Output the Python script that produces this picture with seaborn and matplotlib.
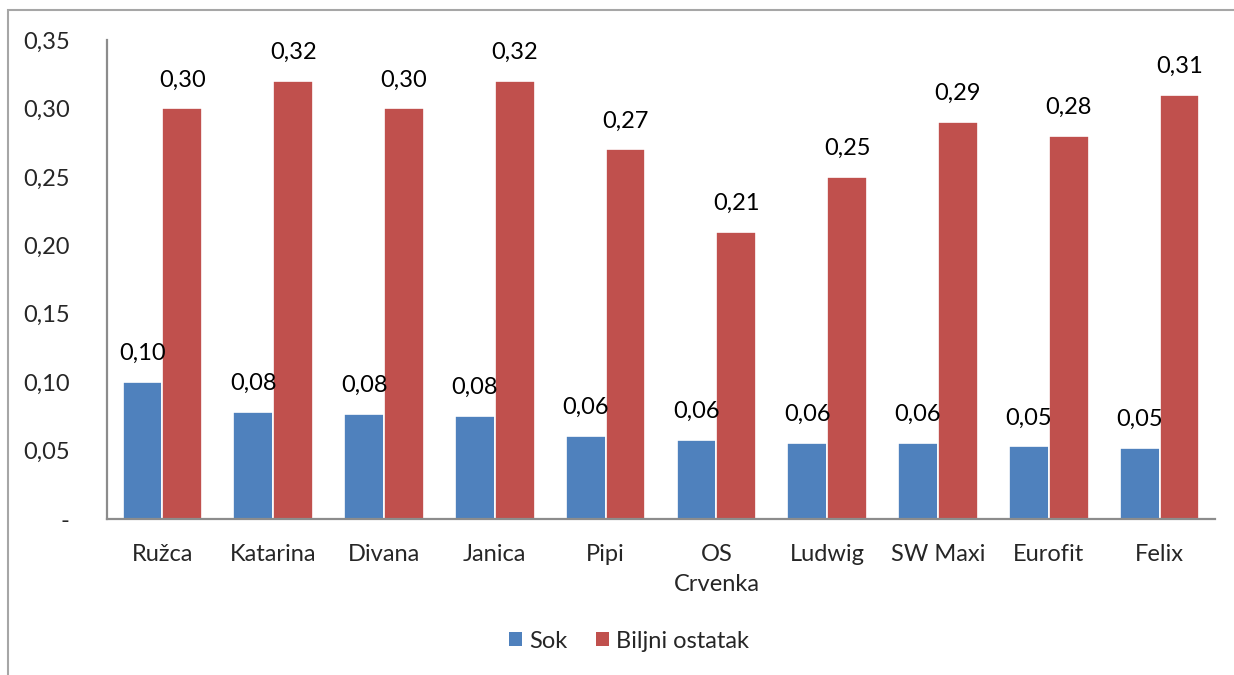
import pandas as pd
import matplotlib.pyplot as plt
import seaborn as sns
from matplotlib.patches import Rectangle, Patch

sns.set_theme(style="white")
plt.rcParams['font.family'] = ['Lato', 'DejaVu Sans']

# data
kategorije = ['Ružca', 'Katarina', 'Divana', 'Janica', 'Pipi', 'OS\nCrvenka',
              'Ludwig', 'SW Maxi', 'Eurofit', 'Felix']
sok = [0.100, 0.078, 0.077, 0.0755, 0.061, 0.058, 0.0555, 0.0555, 0.053, 0.052]
biljni_ostatak = [0.30, 0.32, 0.30, 0.32, 0.27, 0.21, 0.25, 0.29, 0.28, 0.31]
serije = ['Sok', 'Biljni ostatak']
boje = ['#4F81BD', '#C0504D']
y_ticks = [0, 0.05, 0.10, 0.15, 0.20, 0.25, 0.30, 0.35]

df = pd.DataFrame({
    'kategorija': kategorije * 2,
    'serija': [serije[0]] * len(kategorije) + [serije[1]] * len(kategorije),
    'vrijednost': sok + biljni_ostatak,
})

def zarez(v):
    return f"{v:.2f}".replace('.', ',')

W, H = 1234, 675
fig = plt.figure(figsize=(W / 100, H / 100), dpi=100)
ax = fig.add_axes([107 / W, 1 - 519 / H, (1215 - 107) / W, (519 - 40) / H])

sns.barplot(data=df, x='kategorija', y='vrijednost', hue='serija',
            palette=boje, width=0.72, edgecolor='white', linewidth=1.2,
            saturation=1, ax=ax, legend=False)

for cont, vals in zip(ax.containers, [sok, biljni_ostatak]):
    ax.bar_label(cont, labels=[zarez(v) for v in vals], padding=13,
                 fontsize=17, color='black')

ax.set_ylim(0, 0.35)
ax.set_xlim(-0.5, len(kategorije) - 0.5)
ax.set_yticks(y_ticks)
ax.set_yticklabels(['-'] + [zarez(t) for t in y_ticks[1:]], fontsize=17)
ax.tick_params(axis='y', length=0, pad=27)
ax.tick_params(axis='x', length=0, pad=18, labelsize=17)
for lbl in ax.get_xticklabels():
    lbl.set_linespacing(1.55)
ax.set_xlabel('')
ax.set_ylabel('')
for s in ['top', 'right']:
    ax.spines[s].set_visible(False)
for s in ['left', 'bottom']:
    ax.spines[s].set_color('#8c8c8c')
    ax.spines[s].set_linewidth(1.6)

# outer chart frame (cut off at right and bottom in the original)
fig.add_artist(Rectangle((8 / W, -0.2), 1.2, 1 - 10 / H + 0.2,
                         transform=fig.transFigure, fill=False,
                         edgecolor='#a6a6a6', linewidth=1.5))

handles = [Patch(facecolor=c, edgecolor='none') for c in boje]
fig.legend(handles, serije, loc='center', bbox_to_anchor=(629 / W, 1 - 641 / H),
           ncol=2, frameon=False, fontsize=17, handlelength=0.55,
           handleheight=0.55, handletextpad=0.3, columnspacing=1.2)

fig.savefig('out.png', dpi=100)
